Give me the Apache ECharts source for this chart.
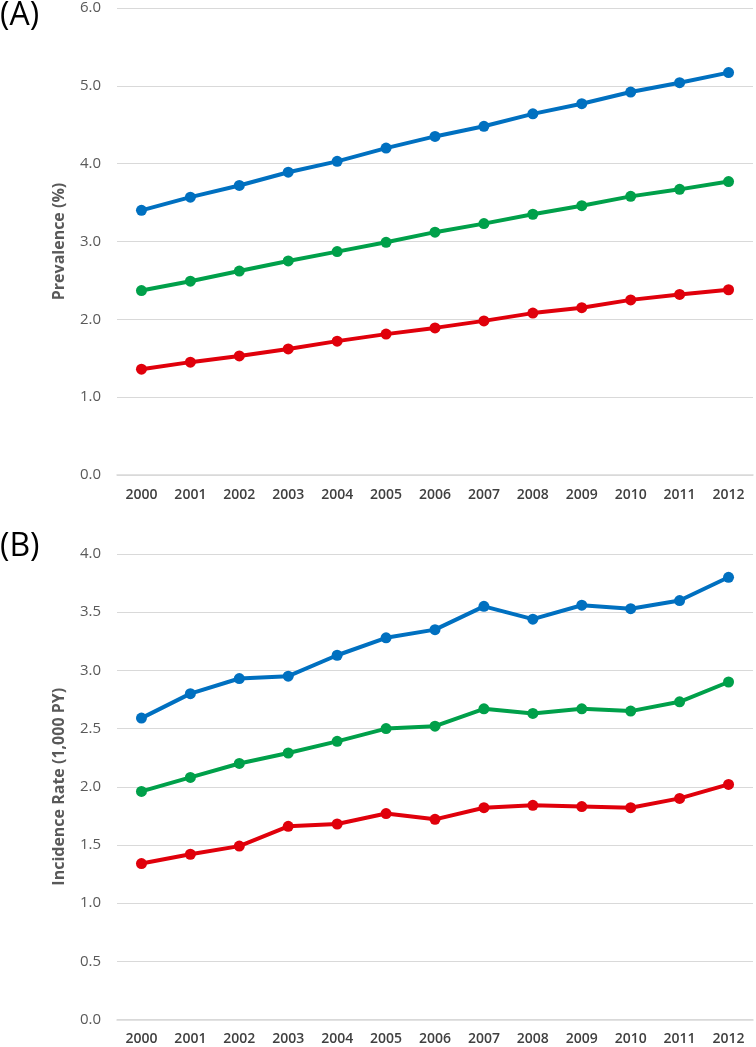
<!DOCTYPE html>
<html>
<head>
<meta charset="utf-8">
<script src="https://cdn.jsdelivr.net/npm/echarts@6/dist/echarts.min.js"></script>
<style>
html,body{margin:0;padding:0;background:#fff;}
#chart{width:756px;height:1047px;}
</style>
</head>
<body>
<div id="chart"></div>
<script>
var years = ['2000','2001','2002','2003','2004','2005','2006','2007','2008','2009','2010','2011','2012'];

var prevBlue  = [3.40,3.57,3.72,3.89,4.03,4.20,4.35,4.48,4.64,4.77,4.92,5.04,5.17];
var prevGreen = [2.37,2.49,2.62,2.75,2.87,2.99,3.12,3.23,3.35,3.46,3.58,3.67,3.77];
var prevRed   = [1.36,1.45,1.53,1.62,1.72,1.81,1.89,1.98,2.08,2.15,2.25,2.32,2.38];

var incBlue  = [2.59,2.80,2.93,2.95,3.13,3.28,3.35,3.55,3.44,3.56,3.53,3.60,3.80];
var incGreen = [1.96,2.08,2.20,2.29,2.39,2.50,2.52,2.67,2.63,2.67,2.65,2.73,2.90];
var incRed   = [1.34,1.42,1.49,1.66,1.68,1.77,1.72,1.82,1.84,1.83,1.82,1.90,2.02];

var titleA = 'Prevalence (%)';
var titleB = 'Incidence Rate (1,000 PY)';

var BLUE = '#0070C0', GREEN = '#00A04A', RED = '#E0000B';
var FONT = '"Open Sans", "Liberation Sans", sans-serif';

function mkSeries(data, color, idx) {
  return {
    type: 'line', data: data, xAxisIndex: idx, yAxisIndex: idx,
    symbol: 'circle', symbolSize: 11,
    lineStyle: {color: color, width: 4},
    itemStyle: {color: color},
    animation: false
  };
}
function xAx(idx) {
  return {
    type: 'category', data: years, gridIndex: idx, boundaryGap: true,
    axisLine: {show: true, lineStyle: {color: '#d9d9d9', width: 1.5}},
    axisTick: {show: false},
    axisLabel: {color: '#404040', fontSize: 14, fontWeight: 600, fontFamily: FONT, margin: 13}
  };
}
function yAx(idx, max, interval, name) {
  return {
    type: 'value', gridIndex: idx, min: 0, max: max, interval: interval,
    name: name, nameLocation: 'middle', nameGap: 50,
    nameTextStyle: {color: '#595959', fontSize: 16, fontWeight: 'bold', fontFamily: FONT},
    axisLine: {show: false}, axisTick: {show: false},
    splitLine: {show: true, lineStyle: {color: '#d9d9d9', width: 1}},
    axisLabel: {color: '#595959', fontSize: 15, fontFamily: FONT, margin: 16,
      formatter: function (v) { return v.toFixed(1); }}
  };
}

var chart = echarts.init(document.getElementById('chart'), null, {renderer: 'canvas'});
chart.setOption({
  backgroundColor: '#fff',
  animation: false,
  grid: [
    {left: 117, right: 3, top: 8, height: 467},
    {left: 117, right: 3, top: 554, height: 465.5}
  ],
  xAxis: [xAx(0), xAx(1)],
  yAxis: [yAx(0, 6, 1, titleA), yAx(1, 4, 0.5, titleB)],
  graphic: [
    {type: 'text', left: 0, top: 0, style: {text: '(A)', font: '32px ' + FONT, fill: '#000'}},
    {type: 'text', left: 0, top: 531, style: {text: '(B)', font: '32px ' + FONT, fill: '#000'}}
  ],
  series: [
    mkSeries(prevBlue, BLUE, 0), mkSeries(prevGreen, GREEN, 0), mkSeries(prevRed, RED, 0),
    mkSeries(incBlue, BLUE, 1), mkSeries(incGreen, GREEN, 1), mkSeries(incRed, RED, 1)
  ]
});
</script>
</body>
</html>
